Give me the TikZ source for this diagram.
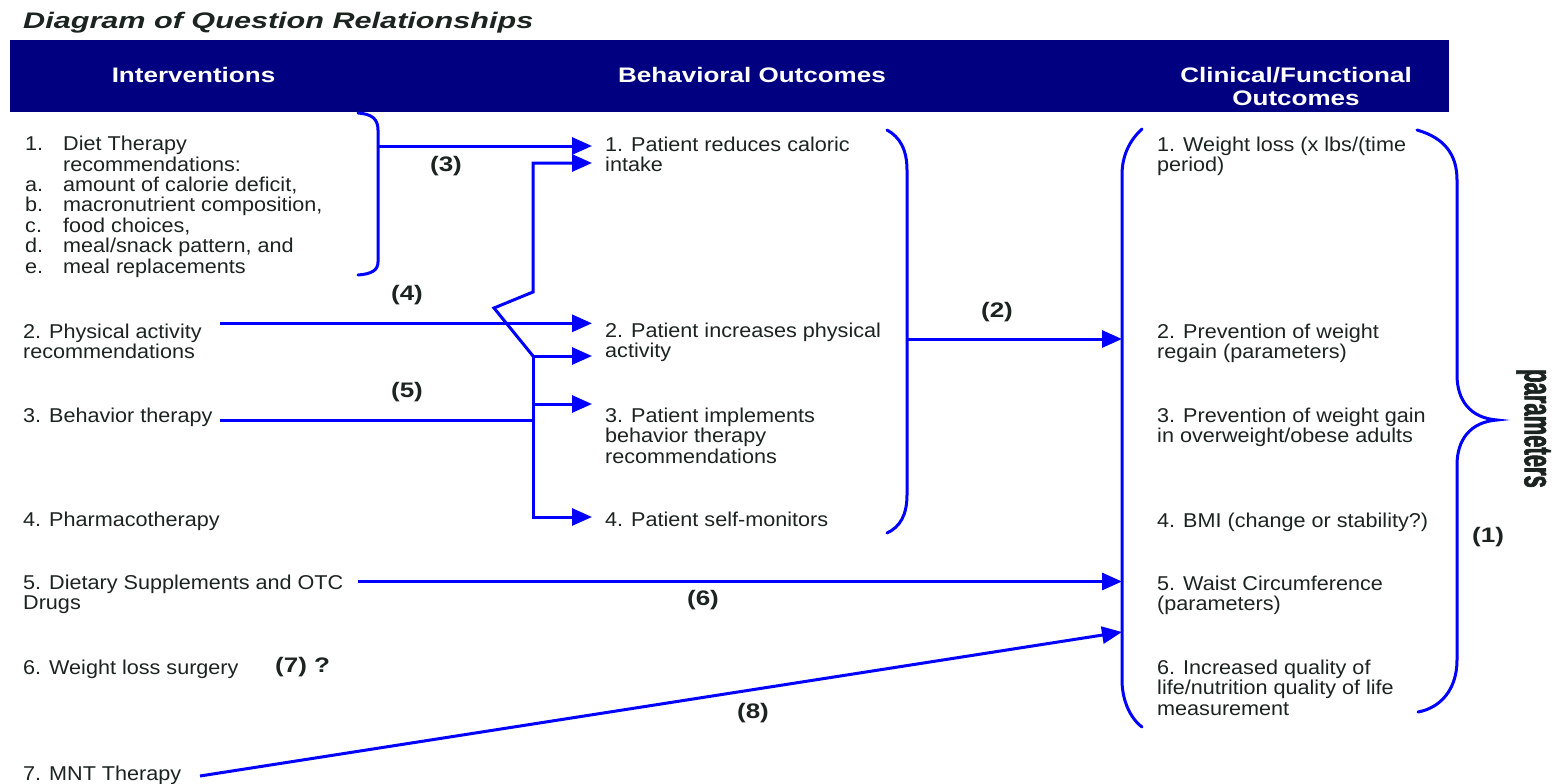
\documentclass[tikz,border=0pt]{standalone}
\usepackage{fontspec}
\setmainfont[FakeStretch=1.08]{Liberation Sans}
\newfontfamily\headfont[FakeStretch=1.24]{Liberation Sans}
\newfontfamily\titlefont[FakeStretch=1.36]{Liberation Sans}
\newfontfamily\paramfont[FakeStretch=0.55,FakeBold=1.6]{Liberation Sans}
\usetikzlibrary{arrows.meta}
\definecolor{bandblue}{RGB}{0,0,128}
\definecolor{linkblue}{RGB}{0,0,255}
\definecolor{ink}{RGB}{28,36,32}
% multi-line text nodes are placed by the baseline of their last line
\tikzset{
  body/.style={inner sep=0pt, text=ink, font=\fontsize{20}{20.5}\selectfont, align=left, anchor=base west},
  head/.style={inner sep=0pt, text=white, font=\headfont\bfseries\fontsize{21}{24}\selectfont, align=center, anchor=base},
  tag/.style={inner sep=0pt, text=ink, font=\headfont\bfseries\fontsize{21}{24}\selectfont},
  link/.style={draw=linkblue, line width=3pt},
  arr/.style={link, -{Triangle[length=20pt,width=17pt]}},
  brace/.style={draw=linkblue, line width=3pt, line cap=round},
}
\newcommand{\lbl}[1]{\makebox[38pt][l]{#1}}
\begin{document}
\begin{tikzpicture}[x=1pt,y=-1pt]
\useasboundingbox (0,0) rectangle (1564,784);
\fill[white] (0,0) rectangle (1564,784);

% title and header band
\node[inner sep=0pt, anchor=base west, text=ink, font=\titlefont\bfseries\itshape\fontsize{22.5}{24}\selectfont] (title) at (23,29) {Diagram of Question Relationships};
\fill[bandblue] (10,40) rectangle (1449,112);
\node[head] (h1) at (193.5,82) {Interventions};
\node[head] (h2) at (752,82) {Behavioral Outcomes};
\node[head] (h3) at (1296,106) {Clinical/Functional\\Outcomes};

% interventions
\node[body, font=\fontsize{20}{20.4}\selectfont] (i1) at (25,273) {\lbl{1.}Diet Therapy\\\hspace*{38pt}recommendations:\\\lbl{a.}amount of calorie deficit,\\\lbl{b.}macronutrient composition,\\\lbl{c.}food choices,\\\lbl{d.}meal/snack pattern, and\\\lbl{e.}meal replacements};
\node[body] (i2) at (23,358.5) {2. Physical activity\\recommendations};
\node[body] (i3) at (23,422) {3. Behavior therapy};
\node[body] (i4) at (23,526) {4. Pharmacotherapy};
\node[body] (i5) at (23,609.5) {5. Dietary Supplements and OTC\\Drugs};
\node[body] (i6) at (23,674) {6. Weight loss surgery};
\node[body] (i7) at (23,780) {7. MNT Therapy};

% behavioral outcomes
\node[body] (b1) at (605,171.5) {1. Patient reduces caloric\\intake};
\node[body] (b2) at (605,357.5) {2. Patient increases physical\\activity};
\node[body] (b3) at (605,463) {3. Patient implements\\behavior therapy\\recommendations};
\node[body] (b4) at (605,526) {4. Patient self-monitors};

% clinical / functional outcomes
\node[body] (c1) at (1157,171.5) {1. Weight loss (x lbs/(time\\period)};
\node[body] (c2) at (1157,358.5) {2. Prevention of weight\\regain (parameters)};
\node[body] (c3) at (1157,442.5) {3. Prevention of weight gain\\in overweight/obese adults};
\node[body] (c4) at (1157,527) {4. BMI (change or stability?)};
\node[body] (c5) at (1157,610.5) {5. Waist Circumference\\(parameters)};
\node[body] (c6) at (1157,715) {6. Increased quality of\\life/nutrition quality of life\\measurement};

% brackets
\draw[brace] (358,113) .. controls (372,114) and (378,119) .. (378,130) -- (378,262) .. controls (378,270) and (372,274) .. (358,275);
\draw[brace] (887,130) .. controls (900,137) and (907,150) .. (907,170) -- (907,495) .. controls (907,515) and (900,527) .. (887,533);
\draw[brace] (1142,129) .. controls (1130,140) and (1122,155) .. (1122,175) -- (1122,680) .. controls (1122,700) and (1130,718) .. (1142,727);
\draw[brace] (1417,130) .. controls (1445,138) and (1457,155) .. (1457,180) -- (1457,375) .. controls (1457,400) and (1470,418) .. (1497,420) .. controls (1470,422) and (1457,440) .. (1457,465) -- (1457,660) .. controls (1457,690) and (1440,708) .. (1418,712);

% junction points
\coordinate (dietout) at (378,146);
\coordinate (b1a) at (592,146);
\coordinate (b1b) at (592,163);
\coordinate (b2a) at (592,323.3);
\coordinate (b2b) at (592,356);
\coordinate (b3a) at (592,404);
\coordinate (b4a) at (592,517);
\coordinate (paout) at (220,323.3);
\coordinate (btout) at (220,420.5);
\coordinate (hub) at (533,420.5);
\coordinate (trunktop) at (533,356);
\coordinate (trunkmid) at (533,404);
\coordinate (trunkbot) at (533,517);
\coordinate (kinkl) at (494,308);
\coordinate (kinkr) at (533,292);
\coordinate (riser) at (533,163);
\coordinate (behout) at (907,339);
\coordinate (c2in) at (1122,339);
\coordinate (suppout) at (358,581.5);
\coordinate (c5in) at (1122,581.5);
\coordinate (mntout) at (200,776);
\coordinate (c6in) at (1122,632);

% connectors
\draw[arr] (dietout) -- (b1a);
\draw[arr] (paout) -- (b2a);
\draw[link] (btout) -- (hub);
\draw[arr] (trunktop) -- (kinkl) -- (kinkr) -- (riser) -- (b1b);
\draw[arr] (trunktop) -- (b2b);
\draw[arr] (trunkmid) -- (b3a);
\draw[arr] (trunktop) -- (trunkbot) -- (b4a);
\draw[arr] (behout) -- (c2in);
\draw[arr] (suppout) -- (c5in);
\draw[arr] (mntout) -- (c6in);

% relationship numbers
\node[tag] (q3) at (446,166) {(3)};
\node[tag] (q4) at (407,295) {(4)};
\node[tag] (q5) at (407,392) {(5)};
\node[tag] (q2) at (997,312) {(2)};
\node[tag] (q6) at (703,600) {(6)};
\node[tag] (q8) at (753,713) {(8)};
\node[tag] (q1) at (1488,537) {(1)};
\node[tag, anchor=base west] (q7) at (275,672) {(7) ?};

\node[rotate=-90, inner sep=0pt, text=ink, font=\paramfont\bfseries\fontsize{40}{40}\selectfont] (par) at (1533.5,428.5) {parameters};
\end{tikzpicture}
\end{document}
